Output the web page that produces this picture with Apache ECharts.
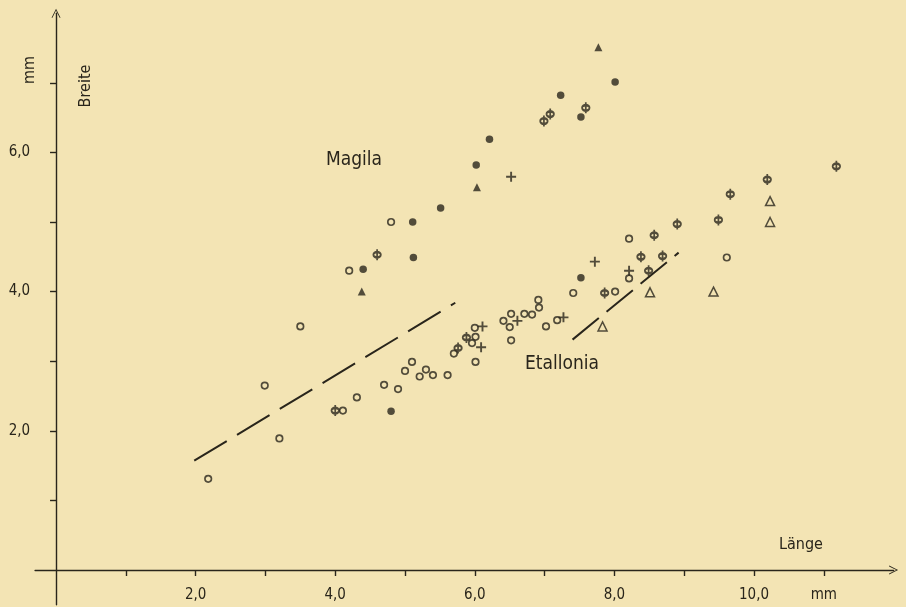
<!DOCTYPE html>
<html>
<head>
<meta charset="utf-8">
<script src="https://cdn.jsdelivr.net/npm/echarts@6/dist/echarts.min.js"></script>
<style>
html,body{margin:0;padding:0;background:#F3E4B4;}
#chart{width:906px;height:607px;}
</style>
</head>
<body>
<div id="chart"></div>
<script>
// ---- data (Länge, Breite in mm) ----
const openCircles = [[4.20,4.30],[3.50,3.50],[2.99,2.65],[3.20,1.89],[2.18,1.31],[4.11,2.29],[4.31,2.48],[4.70,2.66],[4.90,2.60],[5.10,2.99],[5.00,2.86],[5.21,2.78],[5.30,2.88],[5.40,2.80],[5.61,2.80],[5.70,3.11],[6.00,3.48],[6.01,3.35],[5.96,3.26],[6.01,2.99],[6.52,3.30],[6.41,3.58],[6.50,3.49],[6.52,3.68],[6.71,3.68],[6.82,3.67],[6.91,3.88],[6.92,3.77],[7.02,3.50],[7.18,3.59],[7.41,3.98],[8.01,4.00],[8.21,4.19],[9.61,4.49],[4.80,5.00],[8.21,4.76]];
const filledCircles = [[4.40,4.32],[5.12,4.49],[4.80,2.28],[7.52,4.20],[8.01,7.01],[7.23,6.82],[7.52,6.51],[6.21,6.19],[6.02,5.82],[5.51,5.20],[5.11,5.00]];
const filledTriangles = [[4.38,4.00],[7.77,7.51],[6.03,5.50]];
const openTriangles = [[7.83,3.50],[8.51,3.99],[9.42,4.00],[10.23,5.30],[10.23,5.00]];
const plusMarks = [[6.11,3.50],[6.09,3.20],[6.61,3.58],[7.27,3.63],[7.72,4.43],[8.21,4.30],[6.52,5.65]];
const ringBars = [[4.60,4.53],[4.00,2.29],[5.76,3.19],[5.88,3.34],[7.86,3.98],[8.49,4.30],[11.18,5.80],[10.19,5.61],[9.66,5.40],[9.49,5.03],[8.90,4.97],[8.57,4.81],[8.38,4.50],[8.69,4.51],[7.59,6.64],[7.08,6.55],[6.99,6.45]];
const lineMagila = [[1.98,1.57],[5.72,3.84]];
const lineEtallonia = [[7.40,3.31],[8.92,4.56]];

const xTickValues = [1,2,3,4,5,6,7,8,9,10,11];
const xLabelValues = [2,4,6,8,10,11];
const xLabelText = {2:'2,0',4:'4,0',6:'6,0',8:'8,0',10:'10,0',11:'mm'};
const yTickValues = [1,2,3,4,5,6,7];
const yLabelValues = [2,4,6];
const yLabelText = {2:'2,0',4:'4,0',6:'6,0'};

// ---- style ----
const ink = '#29251b';
const paper = '#F3E4B4';
const font = "'DejaVu Sans Condensed','Liberation Sans Narrow','DejaVu Sans',sans-serif";
const arrowPath = 'path://M5,0 L10,10 L9,10 L5,2 L1,10 L0,10 Z';

const chart = echarts.init(document.getElementById('chart'), null, {renderer:'canvas'});
chart.setOption({
  animation:false,
  backgroundColor: paper,
  grid:{left:35.1, right:12.4, top:13.2, bottom:2.2, containLabel:false, outerBoundsMode:'none'},
  xAxis:{
    type:'value', min:-0.3, max:12,
    axisLine:{onZero:true, symbol:['none',arrowPath], symbolSize:[9,12], lineStyle:{color:ink,width:1.4}},
    axisTick:{show:true, customValues:xTickValues, length:6, lineStyle:{color:ink,width:1.4}},
    axisLabel:{customValues:xLabelValues, formatter:v=>xLabelText[v]||'', color:ink, fontFamily:font, fontSize:15, margin:-17, hideOverlap:false},
    splitLine:{show:false}
  },
  yAxis:{
    type:'value', min:-0.5, max:8,
    axisLine:{onZero:true, symbol:['none',arrowPath], symbolSize:[9,12], lineStyle:{color:ink,width:1.4}},
    axisTick:{show:true, customValues:yTickValues, length:6, lineStyle:{color:ink,width:1.4}},
    axisLabel:{customValues:yLabelValues, formatter:v=>yLabelText[v]||'', color:ink, fontFamily:font, fontSize:15, margin:5, hideOverlap:false},
    splitLine:{show:false}
  },
  graphic:[
    {type:'text', left:326, top:151, style:{text:'Magila', fill:ink, font:"19px "+font}},
    {type:'text', left:525, top:355, style:{text:'Etallonia', fill:ink, font:"19px "+font}},
    {type:'text', left:779, top:537, style:{text:'Länge', fill:ink, font:"16px "+font}},
    {type:'text', x:86, y:86, rotation:Math.PI/2, style:{text:'Breite', fill:ink, font:"16px "+font, align:'center', verticalAlign:'middle'}},
    {type:'text', x:30, y:70, rotation:Math.PI/2, style:{text:'mm', fill:ink, font:"16px "+font, align:'center', verticalAlign:'middle'}}
  ],
  series:[
    {type:'line', data:lineMagila, symbol:'none', lineStyle:{color:ink, width:2, type:[38,12]}, z:1},
    {type:'line', data:lineEtallonia, symbol:'none', lineStyle:{color:ink, width:2, type:[34,10]}, z:1},
    {type:'scatter', data:openCircles, symbol:'circle', symbolSize:6.5, itemStyle:{color:paper, borderColor:ink, borderWidth:1.7}, z:3},
    {type:'scatter', data:filledCircles, symbol:'circle', symbolSize:7.5, itemStyle:{color:ink}, z:3},
    {type:'scatter', data:filledTriangles, symbol:'triangle', symbolSize:8, itemStyle:{color:ink}, z:3},
    {type:'scatter', data:openTriangles, symbol:'triangle', symbolSize:9, itemStyle:{color:paper, borderColor:ink, borderWidth:1.5}, z:3},
    {type:'scatter', data:plusMarks, symbol:'path://M0,5 L10,5 M5,0 L5,10', symbolSize:10, itemStyle:{color:'transparent', borderColor:ink, borderWidth:1.9}, z:3},
    {type:'scatter', data:ringBars, symbol:'path://M5,0 L5,12 M5,3 A3,3 0 1 1 5,9 A3,3 0 1 1 5,3 Z', symbolSize:[7.5,11], itemStyle:{color:paper, borderColor:ink, borderWidth:2.1}, z:3}
  ]
});
</script>
</body>
</html>
